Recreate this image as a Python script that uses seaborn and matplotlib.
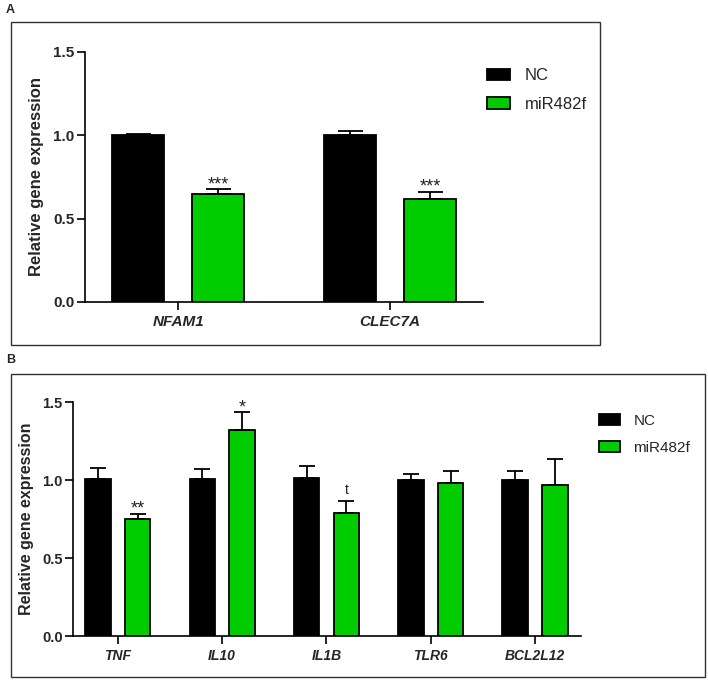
import matplotlib
matplotlib.use('Agg')
import matplotlib.pyplot as plt
import seaborn as sns
import pandas as pd
from matplotlib.patches import Rectangle

# values
groups = ['NC', 'miR482f']

genes_a = ['NFAM1', 'CLEC7A']
nc_a = [1.0, 1.0]
nc_err_a = [0.01, 0.027]
mir_a = [0.645, 0.62]
mir_err_a = [0.03, 0.04]
marks_a = ['***', '***']

genes_b = ['TNF', 'IL10', 'IL1B', 'TLR6', 'BCL2L12']
nc_b = [1.004, 1.004, 1.011, 0.998, 1.002]
nc_err_b = [0.075, 0.068, 0.08, 0.038, 0.056]
mir_b = [0.748, 1.32, 0.786, 0.983, 0.968]
mir_err_b = [0.036, 0.115, 0.077, 0.075, 0.165]
marks_b = ['**', '*', 't', '', '']

colors = {'NC': 'black', 'miR482f': '#00CC00'}

sns.set_style('ticks')
plt.rcParams['font.family'] = ['Liberation Sans', 'DejaVu Sans']


def make_frame(genes, nc, mir):
    return pd.DataFrame({
        'gene': genes * 2,
        'value': nc + mir,
        'group': ['NC'] * len(genes) + ['miR482f'] * len(genes),
    })


def draw_panel(fig, rect, genes, nc, nc_err, mir, mir_err, marks, xlim,
               tick_fs, label_fs, cat_fs, leg_fs, cap, label_x, leg_pos, leg_space):
    ax = fig.add_axes(rect)
    df = make_frame(genes, nc, mir)
    sns.barplot(data=df, x='gene', y='value', hue='group', hue_order=groups,
                palette=colors, saturation=1, edgecolor='black', linewidth=1.3,
                width=0.76, gap=0.355, errorbar=None, ax=ax)

    for cont, errs in zip(ax.containers, [nc_err, mir_err]):
        xs = [b.get_x() + b.get_width() / 2 for b in cont]
        ys = [b.get_height() for b in cont]
        ax.errorbar(xs, ys, yerr=[[0] * len(errs), errs], fmt='none',
                    ecolor='black', elinewidth=1.3, capsize=cap, capthick=1.3,
                    zorder=1)

    # significance marks above the miR482f bars
    mir_bars = ax.containers[1]
    for b, e, m in zip(mir_bars, mir_err, marks):
        if not m:
            continue
        top = b.get_height() + e
        if m.startswith('*'):
            ax.text(b.get_x() + b.get_width() / 2, top, m, ha='center',
                    va='baseline', fontsize=13, color='#222222')
        else:
            ax.text(b.get_x() + b.get_width() / 2, top + 0.045, m, ha='center',
                    va='baseline', fontsize=10, color='#222222')

    ax.set_xlim(*xlim)
    ax.set_ylim(0, 1.5)
    ax.set_yticks([0, 0.5, 1.0, 1.5])
    ax.set_yticklabels(['0.0', '0.5', '1.0', '1.5'], fontweight='bold', fontsize=tick_fs)
    ax.set_xticks(range(len(genes)))
    ax.set_xticklabels(genes, fontweight='bold', fontstyle='italic', fontsize=cat_fs)
    ax.set_xlabel('')
    ax.set_ylabel('Relative gene expression', fontweight='bold', fontsize=label_fs)
    ax.yaxis.set_label_coords(label_x, 0.5)
    ax.tick_params(axis='both', length=5.5, width=1.2, color='black', pad=2)
    ax.tick_params(axis='x', pad=4)
    for s in ['left', 'bottom']:
        ax.spines[s].set_linewidth(1.2)
        ax.spines[s].set_color('black')
    sns.despine(ax=ax)

    handles, labels = ax.get_legend_handles_labels()
    ax.legend(handles, labels, loc='upper left', bbox_to_anchor=leg_pos,
              bbox_transform=fig.transFigure, frameon=False, fontsize=leg_fs,
              handlelength=1.4, handleheight=0.7, handletextpad=0.85,
              labelspacing=leg_space, borderpad=0, borderaxespad=0)
    return ax


fig = plt.figure(figsize=(7.08, 6.8), dpi=100)

draw_panel(fig, [85 / 708, 0.556, 398 / 708, 0.3676],
           genes_a, nc_a, nc_err_a, mir_a, mir_err_a, marks_a, (-0.44, 1.44),
           tick_fs=11, label_fs=12, cat_fs=11, leg_fs=12, cap=9, label_x=-0.103,
           leg_pos=(487 / 708, 0.8996), leg_space=0.8)

draw_panel(fig, [73 / 708, 0.0647, 508 / 708, 0.3441],
           genes_b, nc_b, nc_err_b, mir_b, mir_err_b, marks_b, (-0.43, 4.44),
           tick_fs=10.5, label_fs=11.5, cat_fs=10, leg_fs=11, cap=6, label_x=-0.077,
           leg_pos=(599 / 708, 0.3916), leg_space=0.86)

# panel frames and letters
fig.patches.append(Rectangle((11 / 708, 0.4926), 589 / 708, 323 / 680, fill=False,
                             edgecolor='#333333', linewidth=1.0, transform=fig.transFigure))
fig.patches.append(Rectangle((11 / 708, 0.0044), 694 / 708, 303 / 680, fill=False,
                             edgecolor='#333333', linewidth=1.0, transform=fig.transFigure))
fig.text(6 / 708, 1 - 10 / 680, 'A', fontweight='bold', fontsize=9, va='center')
fig.text(6 / 708, 1 - 360 / 680, 'B', fontweight='bold', fontsize=9, va='center')

fig.savefig('out.png', dpi=100)
